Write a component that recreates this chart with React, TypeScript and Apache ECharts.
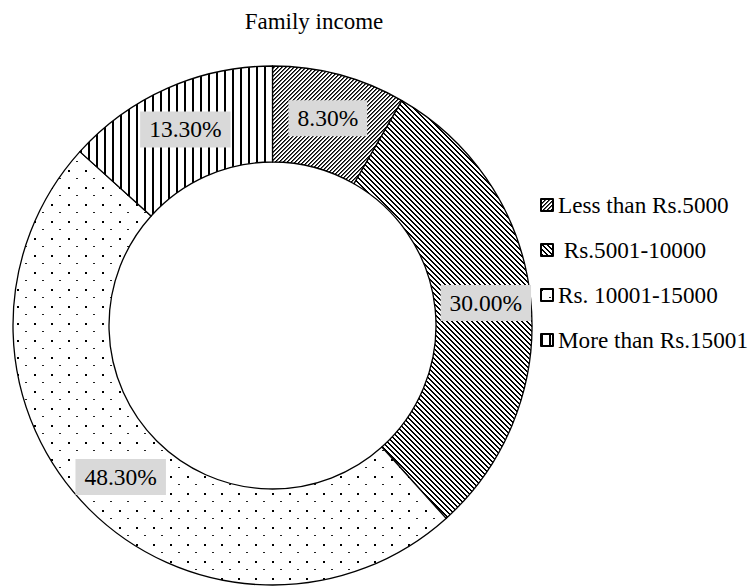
import React, { useEffect, useRef } from "react";
import * as echarts from "echarts";

const titleText = "Family income";
const categories = ["Less than Rs.5000", " Rs.5001-10000", "Rs. 10001-15000", "More than Rs.15001"];
const shares = [8.3, 30.0, 48.3, 13.3];

const FONT = "'Liberation Serif', 'Times New Roman', serif";

function makeTile(w: number, h: number, draw: (ctx: CanvasRenderingContext2D) => void) {
  const c = document.createElement("canvas");
  c.width = w;
  c.height = h;
  const ctx = c.getContext("2d")!;
  ctx.fillStyle = "#ffffff";
  ctx.fillRect(0, 0, w, h);
  draw(ctx);
  return c;
}

function diagTile(p: number, up: boolean, dark: number, soft: number, softColor: string) {
  return makeTile(p, p, (ctx) => {
    for (let y = 0; y < p; y++) {
      for (let x = 0; x < p; x++) {
        const k = up ? (((x + y) % p) + p) % p : (((x - y) % p) + p) % p;
        if (k < dark) {
          ctx.fillStyle = "#000000";
          ctx.fillRect(x, y, 1, 1);
        } else if (k < dark + soft) {
          ctx.fillStyle = softColor;
          ctx.fillRect(x, y, 1, 1);
        }
      }
    }
  });
}

function dotTile() {
  return makeTile(17, 17, (ctx) => {
    ctx.fillStyle = "#000000";
    ctx.fillRect(0, 0, 2, 2);
    ctx.fillStyle = "#222222";
    ctx.fillRect(8, 8, 2, 1);
  });
}

function vertTile() {
  return makeTile(8, 1, (ctx) => {
    ctx.fillStyle = "#000000";
    ctx.fillRect(0, 0, 2, 1);
  });
}

export default function App() {
  const ref = useRef<HTMLDivElement>(null);
  useEffect(() => {
    document.body.style.margin = "0";
    if (!ref.current) return;
    const chart = echarts.init(ref.current, undefined, { renderer: "svg" });
    const patterns = [
      diagTile(4, true, 1, 1, "#555555"),
      diagTile(5, false, 2, 0, "#000000"),
      dotTile(),
      vertTile(),
    ];
    chart.setOption({
      animation: false,
      backgroundColor: "#ffffff",
      title: {
        text: titleText,
        left: 314,
        top: 8,
        textAlign: "center",
        padding: 0,
        textStyle: { fontFamily: FONT, fontSize: 23, lineHeight: 26, fontWeight: "normal", color: "#000" },
      },
      legend: {
        orient: "vertical",
        left: 540,
        top: 193,
        padding: 0,
        itemWidth: 12,
        itemHeight: 12,
        itemGap: 21,
        icon: "rect",
        textStyle: { fontFamily: FONT, fontSize: 23.2, lineHeight: 24, color: "#000" },
        data: categories,
      },
      series: [
        {
          type: "pie",
          center: [272.5, 325.5],
          radius: [163.5, 259.5],
          startAngle: 90,
          clockwise: true,
          avoidLabelOverlap: false,
          itemStyle: { borderColor: "#000", borderWidth: 1.3 },
          label: {
            show: true,
            position: "inside",
            formatter: (p: any) => p.value.toFixed(2) + "%",
            fontFamily: FONT,
            fontSize: 23.5,
            lineHeight: 24,
            color: "#000",
            backgroundColor: "#d9d9d9",
            padding: [6, 9],
          },
          labelLine: { show: false },
          emphasis: { disabled: true },
          data: categories.map((name, i) => ({
            name,
            value: shares[i],
            itemStyle: { color: { image: patterns[i], repeat: "repeat" } },
          })),
        },
      ],
    });
    return () => chart.dispose();
  }, []);
  return <div ref={ref} style={{ width: 751, height: 588 }} />;
}
